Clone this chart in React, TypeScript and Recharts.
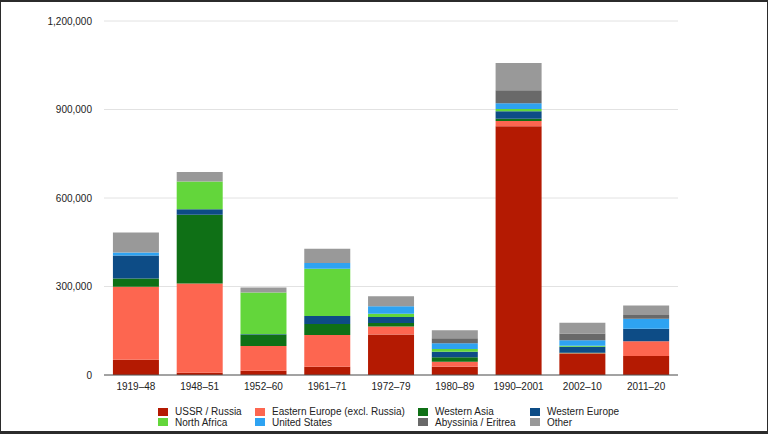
import React from "react";
import { BarChart, Bar, XAxis, YAxis, CartesianGrid } from "recharts";

const categories = ["1919–48", "1948–51", "1952–60", "1961–71", "1972–79", "1980–89", "1990–2001", "2002–10", "2011–20"];

const ussrRussia = [52000, 8000, 14000, 28000, 137000, 28000, 843000, 71000, 64000];
const easternEurope = [247000, 302000, 84000, 108000, 27000, 17000, 18000, 3000, 50000];
const westernAsia = [28000, 233000, 38000, 37000, 12000, 15000, 8000, 1500, 0];
const westernEurope = [78000, 19000, 2000, 27000, 21000, 19000, 25000, 20000, 43000];
const northAfrica = [0, 94000, 142000, 160000, 11000, 9000, 8000, 4000, 0];
const unitedStates = [10000, 0, 0, 20000, 25000, 20000, 19000, 18000, 34000];
const abyssiniaEritrea = [0, 0, 0, 0, 0, 17000, 44000, 23000, 12000];
const other = [68000, 32000, 17000, 48000, 34000, 27000, 93000, 37000, 33000];

const yTicks = [0, 300000, 600000, 900000, 1200000];

const series = [
  { key: "ussr", name: "USSR / Russia", values: ussrRussia, color: "#b41a02" },
  { key: "ee", name: "Eastern Europe (excl. Russia)", values: easternEurope, color: "#fd6650" },
  { key: "wa", name: "Western Asia", values: westernAsia, color: "#0f7016" },
  { key: "we", name: "Western Europe", values: westernEurope, color: "#0d4c86" },
  { key: "na", name: "North Africa", values: northAfrica, color: "#63d63b" },
  { key: "us", name: "United States", values: unitedStates, color: "#2ea3f2" },
  { key: "ab", name: "Abyssinia / Eritrea", values: abyssiniaEritrea, color: "#696969" },
  { key: "ot", name: "Other", values: other, color: "#999999" },
];

const data = categories.map((c, i) => {
  const row: Record<string, any> = { period: c };
  series.forEach((s) => {
    row[s.key] = s.values[i];
  });
  return row;
});

const legendLayout = [
  { key: "ussr", left: 158, row: 0 },
  { key: "ee", left: 255, row: 0 },
  { key: "wa", left: 418, row: 0 },
  { key: "we", left: 530, row: 0 },
  { key: "na", left: 158, row: 1 },
  { key: "us", left: 255, row: 1 },
  { key: "ab", left: 418, row: 1 },
  { key: "ot", left: 530, row: 1 },
];

const FONT = "'Liberation Sans', Arial, Helvetica, sans-serif";

export default function App() {
  return (
    <div
      style={{
        position: "absolute",
        left: 0,
        top: 0,
        width: 768,
        height: 434,
        background: "#fff",
        fontFamily: FONT,
        overflow: "hidden",
      }}
    >
      <BarChart
        width={768}
        height={434}
        data={data}
        margin={{ top: 21, right: 90, bottom: 29, left: 0 }}
        barCategoryGap="14%"
      >
        <CartesianGrid vertical={false} stroke="#e2e2e2" strokeWidth={1} />
        <XAxis
          dataKey="period"
          tickLine={false}
          axisLine={{ stroke: "#555", strokeWidth: 1 }}
          tick={{ fontSize: 10, fill: "#222", fontFamily: FONT }}
          interval={0}
          height={30}
        />
        <YAxis
          width={104}
          domain={[0, 1200000]}
          ticks={yTicks}
          tickLine={false}
          axisLine={false}
          tickMargin={6}
          tick={{ fontSize: 10, fill: "#222", fontFamily: FONT }}
          tickFormatter={(v: number) => v.toLocaleString("en-US")}
        />
        {series.map((s) => (
          <Bar
            key={s.key}
            dataKey={s.key}
            name={s.name}
            stackId="a"
            fill={s.color}
            isAnimationActive={false}
          />
        ))}
      </BarChart>
      {legendLayout.map((l) => {
        const s = series.find((x) => x.key === l.key)!;
        const top = 406 + l.row * 10.5;
        return (
          <div
            key={l.key}
            style={{
              position: "absolute",
              left: l.left,
              top,
              height: 11,
              display: "flex",
              alignItems: "center",
              fontSize: 10,
              lineHeight: "11px",
              color: "#222",
              whiteSpace: "nowrap",
            }}
          >
            <span
              style={{
                display: "inline-block",
                width: 10,
                height: 8,
                background: s.color,
                marginRight: 7,
              }}
            />
            <span>{s.name}</span>
          </div>
        );
      })}
      <div
        style={{
          position: "absolute",
          left: 0,
          top: 0,
          width: 768,
          height: 434,
          boxSizing: "border-box",
          borderTop: "2px solid #2b2b2b",
          borderBottom: "3px solid #2b2b2b",
          borderLeft: "1px solid #2b2b2b",
          borderRight: "1px solid #2b2b2b",
          pointerEvents: "none",
        }}
      />
    </div>
  );
}
